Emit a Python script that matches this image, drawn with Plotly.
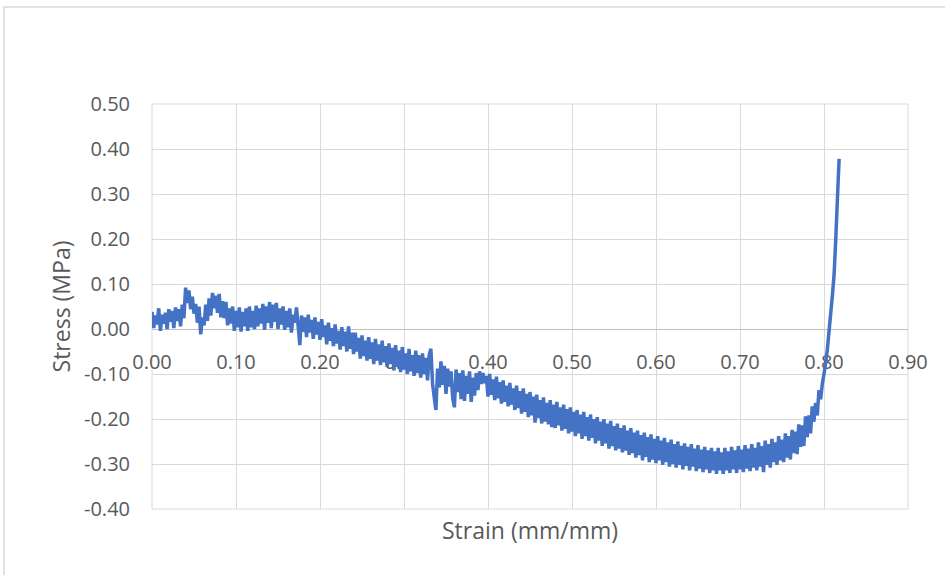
import plotly.graph_objects as go

# ---- data ----
strain = [
    0.000, 0.002, 0.004, 0.006, 0.008, 0.010, 0.012, 0.014, 0.016, 0.018, 0.020, 0.022, 0.024, 0.026, 0.028, 0.030, 0.032, 0.034, 0.036, 0.038,
    0.040, 0.042, 0.044, 0.046, 0.048, 0.050, 0.052, 0.054, 0.056, 0.058, 0.060, 0.062, 0.064, 0.066, 0.068, 0.070, 0.072, 0.074, 0.076, 0.078,
    0.080, 0.082, 0.084, 0.086, 0.088, 0.090, 0.092, 0.094, 0.096, 0.098, 0.100, 0.102, 0.104, 0.106, 0.108, 0.110, 0.112, 0.114, 0.116, 0.118,
    0.120, 0.122, 0.124, 0.126, 0.128, 0.130, 0.132, 0.134, 0.136, 0.138, 0.140, 0.142, 0.144, 0.146, 0.148, 0.150, 0.152, 0.154, 0.156, 0.158,
    0.160, 0.162, 0.164, 0.166, 0.168, 0.170, 0.172, 0.174, 0.176, 0.178, 0.180, 0.182, 0.184, 0.186, 0.188, 0.190, 0.192, 0.194, 0.196, 0.198,
    0.200, 0.202, 0.204, 0.206, 0.208, 0.210, 0.212, 0.214, 0.216, 0.218, 0.220, 0.222, 0.224, 0.226, 0.228, 0.230, 0.232, 0.234, 0.236, 0.238,
    0.240, 0.242, 0.244, 0.246, 0.248, 0.250, 0.252, 0.254, 0.256, 0.258, 0.260, 0.262, 0.264, 0.266, 0.268, 0.270, 0.272, 0.274, 0.276, 0.278,
    0.280, 0.282, 0.284, 0.286, 0.288, 0.290, 0.292, 0.294, 0.296, 0.298, 0.300, 0.302, 0.304, 0.306, 0.308, 0.310, 0.312, 0.314, 0.316, 0.318,
    0.320, 0.322, 0.324, 0.326, 0.328, 0.330, 0.332, 0.334, 0.336, 0.338, 0.340, 0.342, 0.344, 0.346, 0.348, 0.350, 0.352, 0.354, 0.356, 0.358,
    0.360, 0.362, 0.364, 0.366, 0.368, 0.370, 0.372, 0.374, 0.376, 0.378, 0.380, 0.382, 0.384, 0.386, 0.388, 0.390, 0.392, 0.394, 0.396, 0.398,
    0.400, 0.402, 0.404, 0.406, 0.408, 0.410, 0.412, 0.414, 0.416, 0.418, 0.420, 0.422, 0.424, 0.426, 0.428, 0.430, 0.432, 0.434, 0.436, 0.438,
    0.440, 0.442, 0.444, 0.446, 0.448, 0.450, 0.452, 0.454, 0.456, 0.458, 0.460, 0.462, 0.464, 0.466, 0.468, 0.470, 0.472, 0.474, 0.476, 0.478,
    0.480, 0.482, 0.484, 0.486, 0.488, 0.490, 0.492, 0.494, 0.496, 0.498, 0.500, 0.502, 0.504, 0.506, 0.508, 0.510, 0.512, 0.514, 0.516, 0.518,
    0.520, 0.522, 0.524, 0.526, 0.528, 0.530, 0.532, 0.534, 0.536, 0.538, 0.540, 0.542, 0.544, 0.546, 0.548, 0.550, 0.552, 0.554, 0.556, 0.558,
    0.560, 0.562, 0.564, 0.566, 0.568, 0.570, 0.572, 0.574, 0.576, 0.578, 0.580, 0.582, 0.584, 0.586, 0.588, 0.590, 0.592, 0.594, 0.596, 0.598,
    0.600, 0.602, 0.604, 0.606, 0.608, 0.610, 0.612, 0.614, 0.616, 0.618, 0.620, 0.622, 0.624, 0.626, 0.628, 0.630, 0.632, 0.634, 0.636, 0.638,
    0.640, 0.642, 0.644, 0.646, 0.648, 0.650, 0.652, 0.654, 0.656, 0.658, 0.660, 0.662, 0.664, 0.666, 0.668, 0.670, 0.672, 0.674, 0.676, 0.678,
    0.680, 0.682, 0.684, 0.686, 0.688, 0.690, 0.692, 0.694, 0.696, 0.698, 0.700, 0.702, 0.704, 0.706, 0.708, 0.710, 0.712, 0.714, 0.716, 0.718,
    0.720, 0.722, 0.724, 0.726, 0.728, 0.730, 0.732, 0.734, 0.736, 0.738, 0.740, 0.742, 0.744, 0.746, 0.748, 0.750, 0.752, 0.754, 0.756, 0.758,
    0.760, 0.762, 0.764, 0.766, 0.768, 0.770, 0.772, 0.774, 0.776, 0.778, 0.780, 0.782, 0.784, 0.786, 0.788, 0.790, 0.792, 0.794, 0.796, 0.798,
    0.800, 0.802, 0.804, 0.806, 0.808, 0.810, 0.812, 0.813, 0.814, 0.815, 0.816, 0.817, 0.818,
]

stress = [
    0.038, 0.002, 0.030, 0.010, 0.046, -0.004, 0.032, 0.012, 0.036, 0.000, 0.044, 0.016, 0.040, 0.002, 0.048, 0.018, 0.044, 0.006, 0.054, 0.024,
    0.092, 0.058, 0.086, 0.044, 0.072, 0.034, 0.056, 0.014, 0.050, -0.012, 0.026, 0.008, 0.054, 0.018, 0.068, 0.030, 0.080, 0.046, 0.074, 0.036,
    0.078, 0.026, 0.062, 0.024, 0.060, 0.008, 0.046, 0.012, 0.050, -0.004, 0.040, 0.004, 0.048, -0.006, 0.038, 0.006, 0.046, -0.004, 0.050, 0.004,
    0.040, 0.000, 0.052, 0.006, 0.046, 0.012, 0.056, -0.002, 0.050, 0.014, 0.060, 0.002, 0.054, 0.016, 0.058, 0.000, 0.046, 0.010, 0.050, -0.002,
    0.040, 0.004, 0.046, -0.008, 0.032, 0.014, 0.048, 0.006, -0.036, 0.030, -0.006, 0.026, -0.018, 0.032, -0.008, 0.020, -0.022, 0.026, -0.012, 0.016,
    -0.024, 0.022, -0.018, 0.008, -0.034, 0.014, -0.026, 0.002, -0.038, 0.010, -0.032, -0.004, -0.046, 0.004, -0.038, -0.006, -0.050, 0.006, -0.044, -0.008,
    -0.056, -0.008, -0.050, -0.020, -0.066, -0.014, -0.060, -0.026, -0.070, -0.018, -0.066, -0.030, -0.078, -0.022, -0.070, -0.034, -0.080, -0.026, -0.074, -0.038,
    -0.084, -0.032, -0.078, -0.042, -0.092, -0.036, -0.084, -0.048, -0.096, -0.040, -0.090, -0.054, -0.100, -0.044, -0.094, -0.058, -0.104, -0.048, -0.098, -0.060,
    -0.108, -0.054, -0.100, -0.064, -0.114, -0.058, -0.044, -0.122, -0.152, -0.180, -0.088, -0.130, -0.072, -0.124, -0.082, -0.144, -0.088, -0.128, -0.094, -0.154,
    -0.174, -0.090, -0.140, -0.098, -0.156, -0.092, -0.160, -0.104, -0.144, -0.094, -0.162, -0.108, -0.148, -0.098, -0.136, -0.094, -0.122, -0.098, -0.120, -0.104,
    -0.150, -0.100, -0.146, -0.112, -0.158, -0.106, -0.154, -0.118, -0.166, -0.114, -0.162, -0.126, -0.172, -0.120, -0.168, -0.132, -0.180, -0.126, -0.176, -0.138,
    -0.188, -0.132, -0.184, -0.144, -0.196, -0.140, -0.192, -0.150, -0.208, -0.146, -0.198, -0.158, -0.210, -0.152, -0.206, -0.164, -0.212, -0.158, -0.218, -0.168,
    -0.220, -0.162, -0.214, -0.174, -0.226, -0.168, -0.222, -0.178, -0.232, -0.174, -0.228, -0.184, -0.238, -0.180, -0.232, -0.190, -0.244, -0.184, -0.238, -0.196,
    -0.248, -0.190, -0.242, -0.200, -0.254, -0.196, -0.248, -0.206, -0.260, -0.200, -0.254, -0.210, -0.266, -0.204, -0.260, -0.216, -0.270, -0.210, -0.266, -0.220,
    -0.274, -0.214, -0.270, -0.226, -0.280, -0.220, -0.276, -0.230, -0.286, -0.226, -0.280, -0.236, -0.292, -0.230, -0.284, -0.240, -0.296, -0.234, -0.290, -0.244,
    -0.298, -0.238, -0.292, -0.248, -0.302, -0.242, -0.296, -0.252, -0.306, -0.246, -0.300, -0.256, -0.308, -0.250, -0.302, -0.260, -0.312, -0.254, -0.304, -0.262,
    -0.314, -0.256, -0.306, -0.266, -0.316, -0.258, -0.310, -0.268, -0.318, -0.262, -0.312, -0.270, -0.320, -0.264, -0.314, -0.272, -0.322, -0.264, -0.314, -0.274,
    -0.322, -0.264, -0.314, -0.272, -0.320, -0.262, -0.312, -0.270, -0.320, -0.260, -0.312, -0.268, -0.318, -0.258, -0.310, -0.266, -0.316, -0.256, -0.308, -0.264,
    -0.314, -0.252, -0.306, -0.260, -0.318, -0.248, -0.302, -0.256, -0.308, -0.244, -0.296, -0.252, -0.302, -0.238, -0.292, -0.246, -0.296, -0.232, -0.286, -0.238,
    -0.290, -0.224, -0.276, -0.228, -0.278, -0.212, -0.262, -0.214, -0.260, -0.194, -0.240, -0.192, -0.232, -0.172, -0.206, -0.164, -0.192, -0.136, -0.156, -0.122,
    -0.100, -0.075, -0.045, -0.005, 0.035, 0.075, 0.120, 0.160, 0.200, 0.245, 0.290, 0.335, 0.378,
]
assert len(strain) == len(stress)

x_ticks = [0.0, 0.1, 0.2, 0.3, 0.4, 0.5, 0.6, 0.7, 0.8, 0.9]
x_tick_text = ["0.00", "0.10", "0.20", "0.30", "0.40", "0.50", "0.60", "0.70", "0.80", "0.90"]
y_ticks = [0.5, 0.4, 0.3, 0.2, 0.1, 0.0, -0.1, -0.2, -0.3, -0.4]
y_tick_text = ["0.50", "0.40", "0.30", "0.20", "0.10", "0.00", "-0.10", "-0.20", "-0.30", "-0.40"]

x_title = "Strain (mm/mm)"
y_title = "Stress (MPa)"

# ---- figure ----
FONT = "'Open Sans', 'Noto Sans', sans-serif"
TXT = "#595959"
GRID = "#d9d9d9"

fig = go.Figure()
fig.add_trace(go.Scatter(
    x=strain, y=stress, mode="lines",
    line=dict(color="#4472C4", width=3.5, simplify=False),
    showlegend=False, hoverinfo="x+y",
))

W, H = 945, 575
L, R, T, B = 152, 37, 104, 66
pw, ph = W - L - R, H - T - B

fig.update_layout(
    width=W, height=H,
    margin=dict(l=L, r=R, t=T, b=B, pad=0),
    paper_bgcolor="white", plot_bgcolor="white",
    font=dict(family=FONT, color=TXT, size=20),
    xaxis=dict(
        range=[0, 0.9], tickvals=x_ticks, ticktext=x_tick_text,
        showgrid=True, gridcolor=GRID, gridwidth=1, zeroline=False,
        anchor="free", position=0.4 / 0.9,
        showline=True, linecolor="#bfbfbf", linewidth=1,
        ticks="", ticklabelstandoff=15,
        tickfont=dict(family=FONT, size=20, color=TXT),
        layer="below traces",
    ),
    yaxis=dict(
        range=[-0.4, 0.5], tickvals=y_ticks, ticktext=y_tick_text,
        showgrid=True, gridcolor=GRID, gridwidth=1, zeroline=False,
        showline=False, ticks="", ticklabelstandoff=21,
        tickfont=dict(family=FONT, size=20, color=TXT),
        title=dict(text=y_title, font=dict(family=FONT, size=23, color=TXT), standoff=6),
    ),
    shapes=[
        dict(type="rect", xref="paper", yref="paper", x0=0, x1=1, y0=0, y1=1,
             line=dict(color=GRID, width=1), layer="below"),
        dict(type="rect", xref="paper", yref="paper",
             x0=(4 - L) / pw, x1=(960 - L) / pw,
             y0=(H - T - 620) / ph, y1=(H - B - 7) / ph - (H - B - T - ph) / ph,
             line=dict(color="#d9d9d9", width=1.5), layer="below"),
    ],
    annotations=[
        dict(text=x_title, xref="paper", yref="paper", x=0.5, y=(ph - (530 - T)) / ph,
             showarrow=False, xanchor="center", yanchor="middle",
             font=dict(family=FONT, size=23, color=TXT)),
    ],
)

fig.write_html("out.html")
